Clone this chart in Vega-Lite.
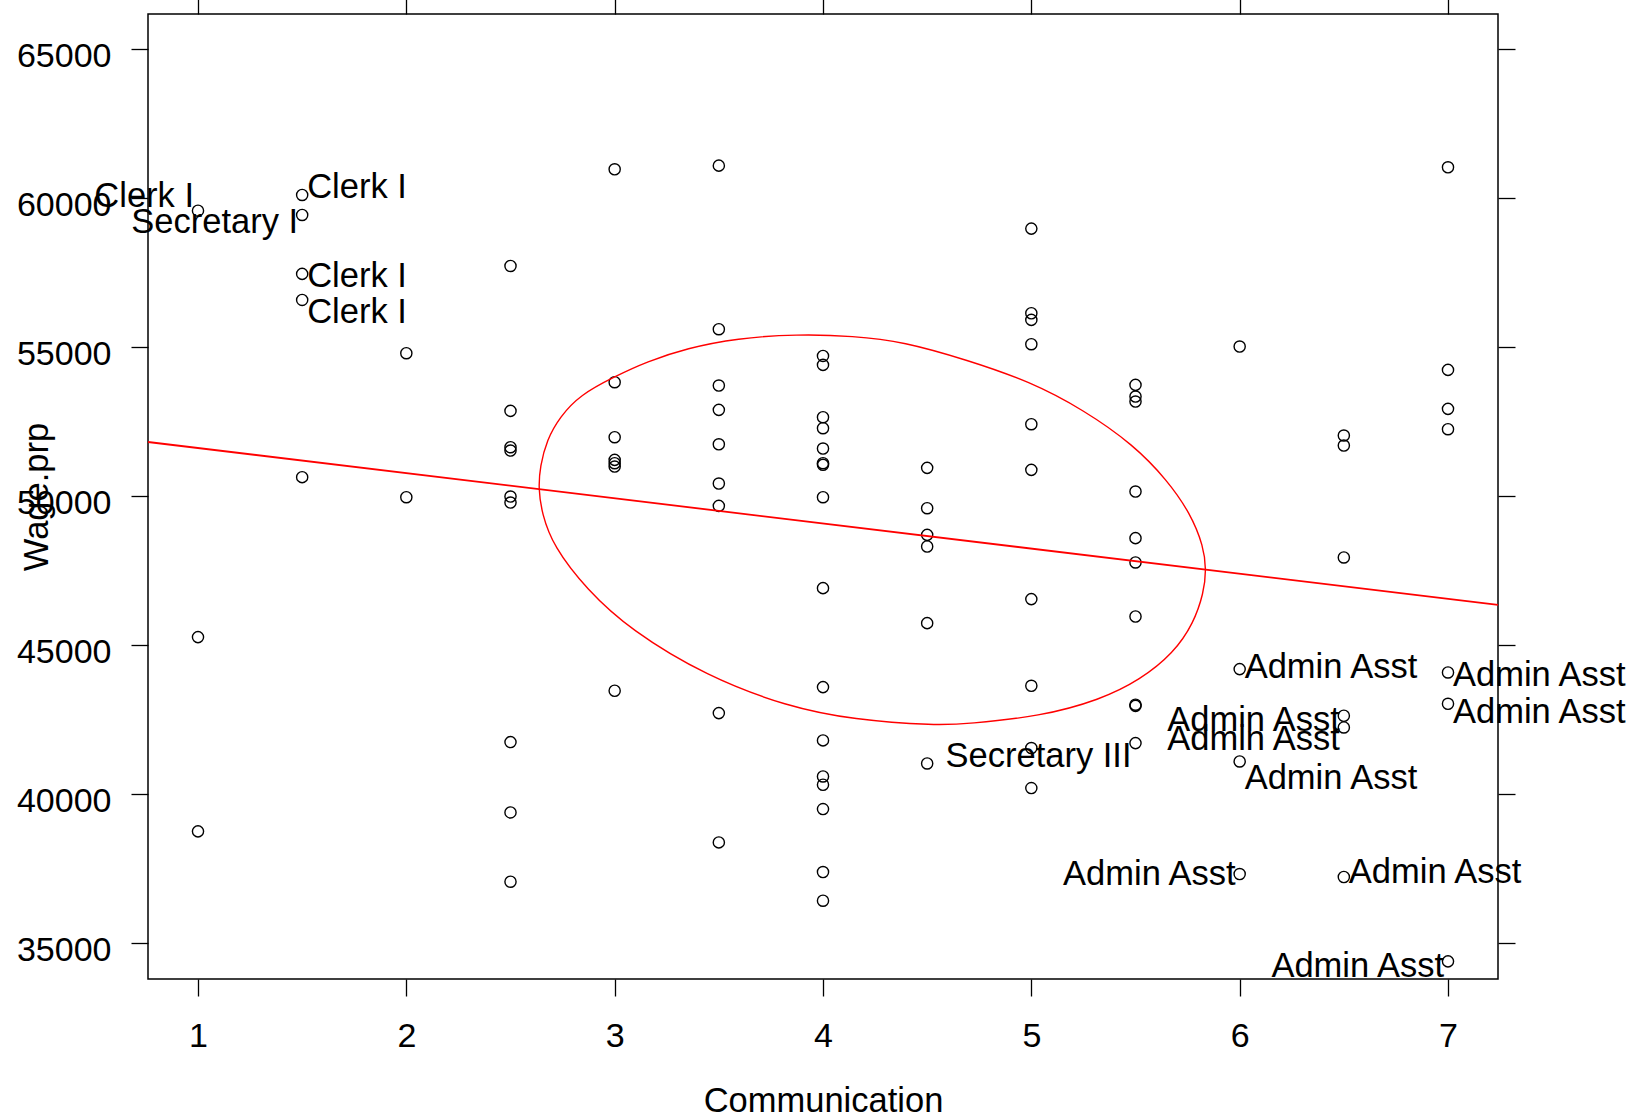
{
  "$schema": "https://vega.github.io/schema/vega-lite/v6.json",
  "width": 1350,
  "height": 965,
  "autosize": {"type": "none"},
  "padding": {"left": 148, "top": 14, "right": 137, "bottom": 141},
  "background": "white",
  "config": {
    "font": "Liberation Sans",
    "view": {"stroke": "black", "strokeWidth": 1.5},
    "axis": {
      "domain": false,
      "grid": false,
      "tickColor": "black",
      "tickSize": 17,
      "tickWidth": 1.3,
      "labelFont": "Liberation Sans",
      "labelFontSize": 34,
      "labelColor": "black",
      "labelFlush": false,
      "labelOverlap": false,
      "titleFont": "Liberation Sans",
      "titleFontSize": 34.5,
      "titleFontWeight": "normal",
      "titleColor": "black"
    }
  },
  "datasets": {
    "points": [
      {"Communication": 1, "Wage": 59584}, {"Communication": 1, "Wage": 45269}, {"Communication": 1, "Wage": 38748},
      {"Communication": 1.5, "Wage": 60112}, {"Communication": 1.5, "Wage": 59441}, {"Communication": 1.5, "Wage": 57461}, {"Communication": 1.5, "Wage": 56588}, {"Communication": 1.5, "Wage": 50638},
      {"Communication": 2, "Wage": 54799}, {"Communication": 2, "Wage": 49966},
      {"Communication": 2.5, "Wage": 57729}, {"Communication": 2.5, "Wage": 52863}, {"Communication": 2.5, "Wage": 51644}, {"Communication": 2.5, "Wage": 51532}, {"Communication": 2.5, "Wage": 49988}, {"Communication": 2.5, "Wage": 49786}, {"Communication": 2.5, "Wage": 41745}, {"Communication": 2.5, "Wage": 39384}, {"Communication": 2.5, "Wage": 37058},
      {"Communication": 3, "Wage": 60973}, {"Communication": 3, "Wage": 53826}, {"Communication": 3, "Wage": 51980}, {"Communication": 3, "Wage": 51219}, {"Communication": 3, "Wage": 51107}, {"Communication": 3, "Wage": 50994}, {"Communication": 3, "Wage": 43468},
      {"Communication": 3.5, "Wage": 61096}, {"Communication": 3.5, "Wage": 55604}, {"Communication": 3.5, "Wage": 53713}, {"Communication": 3.5, "Wage": 52897}, {"Communication": 3.5, "Wage": 51742}, {"Communication": 3.5, "Wage": 50424}, {"Communication": 3.5, "Wage": 49675}, {"Communication": 3.5, "Wage": 42718}, {"Communication": 3.5, "Wage": 38377},
      {"Communication": 4, "Wage": 54708}, {"Communication": 4, "Wage": 54407}, {"Communication": 4, "Wage": 52651}, {"Communication": 4, "Wage": 52282}, {"Communication": 4, "Wage": 51599}, {"Communication": 4, "Wage": 51107}, {"Communication": 4, "Wage": 51052}, {"Communication": 4, "Wage": 49966}, {"Communication": 4, "Wage": 46913}, {"Communication": 4, "Wage": 43591}, {"Communication": 4, "Wage": 41801}, {"Communication": 4, "Wage": 40592}, {"Communication": 4, "Wage": 40313}, {"Communication": 4, "Wage": 39496}, {"Communication": 4, "Wage": 37382}, {"Communication": 4, "Wage": 36420},
      {"Communication": 4.5, "Wage": 50951}, {"Communication": 4.5, "Wage": 49597}, {"Communication": 4.5, "Wage": 48702}, {"Communication": 4.5, "Wage": 48311}, {"Communication": 4.5, "Wage": 45738}, {"Communication": 4.5, "Wage": 41028},
      {"Communication": 5, "Wage": 58982}, {"Communication": 5, "Wage": 56141}, {"Communication": 5, "Wage": 55917}, {"Communication": 5, "Wage": 55101}, {"Communication": 5, "Wage": 52416}, {"Communication": 5, "Wage": 50883}, {"Communication": 5, "Wage": 46544}, {"Communication": 5, "Wage": 43635}, {"Communication": 5, "Wage": 41544}, {"Communication": 5, "Wage": 40201},
      {"Communication": 5.5, "Wage": 53736}, {"Communication": 5.5, "Wage": 53344}, {"Communication": 5.5, "Wage": 53176}, {"Communication": 5.5, "Wage": 50156}, {"Communication": 5.5, "Wage": 48591}, {"Communication": 5.5, "Wage": 47774}, {"Communication": 5.5, "Wage": 45961}, {"Communication": 5.5, "Wage": 43000}, {"Communication": 5.5, "Wage": 42960}, {"Communication": 5.5, "Wage": 41711},
      {"Communication": 6, "Wage": 55022}, {"Communication": 6, "Wage": 44195}, {"Communication": 6, "Wage": 41095}, {"Communication": 6, "Wage": 37316},
      {"Communication": 6.5, "Wage": 52036}, {"Communication": 6.5, "Wage": 51700}, {"Communication": 6.5, "Wage": 47942}, {"Communication": 6.5, "Wage": 42629}, {"Communication": 6.5, "Wage": 42237}, {"Communication": 6.5, "Wage": 37216},
      {"Communication": 7, "Wage": 61040}, {"Communication": 7, "Wage": 54239}, {"Communication": 7, "Wage": 52931}, {"Communication": 7, "Wage": 52248}, {"Communication": 7, "Wage": 44082}, {"Communication": 7, "Wage": 43031}, {"Communication": 7, "Wage": 34384}
    ],
    "fit": [
      {"Communication": 0.76, "Wage": 51819},
      {"Communication": 7.24, "Wage": 46350}
    ],
    "ellipse": [
      {"i": 1, "Communication": 2.634, "Wage": 50269},
      {"i": 2, "Communication": 2.642, "Wage": 50994},
      {"i": 3, "Communication": 2.674, "Wage": 51890},
      {"i": 4, "Communication": 2.738, "Wage": 52672},
      {"i": 5, "Communication": 2.834, "Wage": 53400},
      {"i": 6, "Communication": 2.999, "Wage": 54014},
      {"i": 7, "Communication": 3.155, "Wage": 54518},
      {"i": 8, "Communication": 3.347, "Wage": 54967},
      {"i": 9, "Communication": 3.587, "Wage": 55302},
      {"i": 10, "Communication": 3.875, "Wage": 55437},
      {"i": 11, "Communication": 4.146, "Wage": 55380},
      {"i": 12, "Communication": 4.386, "Wage": 55188},
      {"i": 13, "Communication": 4.691, "Wage": 54574},
      {"i": 14, "Communication": 4.995, "Wage": 53846},
      {"i": 15, "Communication": 5.251, "Wage": 52896},
      {"i": 16, "Communication": 5.491, "Wage": 51722},
      {"i": 17, "Communication": 5.651, "Wage": 50547},
      {"i": 18, "Communication": 5.763, "Wage": 49430},
      {"i": 19, "Communication": 5.827, "Wage": 48309},
      {"i": 20, "Communication": 5.840, "Wage": 47529},
      {"i": 21, "Communication": 5.827, "Wage": 46745},
      {"i": 22, "Communication": 5.779, "Wage": 45738},
      {"i": 23, "Communication": 5.683, "Wage": 44732},
      {"i": 24, "Communication": 5.523, "Wage": 43836},
      {"i": 25, "Communication": 5.331, "Wage": 43165},
      {"i": 26, "Communication": 5.043, "Wage": 42604},
      {"i": 27, "Communication": 4.691, "Wage": 42359},
      {"i": 28, "Communication": 4.547, "Wage": 42302},
      {"i": 29, "Communication": 4.146, "Wage": 42494},
      {"i": 30, "Communication": 3.827, "Wage": 42940},
      {"i": 31, "Communication": 3.443, "Wage": 43946},
      {"i": 32, "Communication": 3.074, "Wage": 45514},
      {"i": 33, "Communication": 2.867, "Wage": 46856},
      {"i": 34, "Communication": 2.706, "Wage": 48309},
      {"i": 35, "Communication": 2.650, "Wage": 49430}
    ],
    "labelsLeft": [
      {"Communication": 1, "Wage": 59719, "Title": "Clerk I"},
      {"Communication": 1.5, "Wage": 58827, "Title": "Secretary I"},
      {"Communication": 5.5, "Wage": 40907, "Title": "Secretary III"},
      {"Communication": 6.5, "Wage": 42102, "Title": "Admin Asst"},
      {"Communication": 6.5, "Wage": 41464, "Title": "Admin Asst"},
      {"Communication": 6, "Wage": 36957, "Title": "Admin Asst"},
      {"Communication": 7, "Wage": 33860, "Title": "Admin Asst"}
    ],
    "labelsRight": [
      {"Communication": 1.5, "Wage": 60001, "Title": "Clerk I"},
      {"Communication": 1.5, "Wage": 57035, "Title": "Clerk I"},
      {"Communication": 1.5, "Wage": 55806, "Title": "Clerk I"},
      {"Communication": 6, "Wage": 43894, "Title": "Admin Asst"},
      {"Communication": 7, "Wage": 43612, "Title": "Admin Asst"},
      {"Communication": 7, "Wage": 42384, "Title": "Admin Asst"},
      {"Communication": 6, "Wage": 40169, "Title": "Admin Asst"},
      {"Communication": 6.5, "Wage": 37014, "Title": "Admin Asst"}
    ]
  },
  "resolve": {"axis": {"x": "independent", "y": "independent"}},
  "layer": [
    {
      "data": {"name": "points"},
      "mark": {"type": "point", "shape": "circle", "filled": false, "stroke": "black", "strokeWidth": 1.4, "size": 125, "opacity": 1},
      "encoding": {
        "x": {
          "field": "Communication", "type": "quantitative",
          "scale": {"domain": [0.76, 7.24], "nice": false, "zero": false},
          "axis": {
            "orient": "bottom", "values": [1, 2, 3, 4, 5, 6, 7], "format": "d",
            "labelBaseline": "alphabetic", "labelPadding": 50, "labelAlign": "center",
            "title": "Communication", "titleX": 675, "titleY": 132,
            "titleBaseline": "alphabetic", "titleAlign": "center", "titleAnchor": "middle"
          }
        },
        "y": {
          "field": "Wage", "type": "quantitative",
          "scale": {"domain": [33792, 66186], "nice": false, "zero": false},
          "axis": {
            "orient": "left", "values": [35000, 40000, 45000, 50000, 55000, 60000, 65000], "format": "d",
            "labelBaseline": "alphabetic", "labelOffset": 17, "labelPadding": 20, "labelAlign": "right",
            "title": "Wage.prp", "titleAngle": 270, "titleX": -101, "titleY": 482.5,
            "titleBaseline": "alphabetic", "titleAlign": "center", "titleAnchor": "middle"
          }
        }
      }
    },
    {
      "data": {"name": "fit"},
      "mark": {"type": "line", "color": "#ff0000", "strokeWidth": 1.8},
      "encoding": {
        "x": {
          "field": "Communication", "type": "quantitative",
          "scale": {"domain": [0.76, 7.24], "nice": false, "zero": false},
          "axis": {"orient": "top", "values": [1, 2, 3, 4, 5, 6, 7], "labels": false, "title": null}
        },
        "y": {
          "field": "Wage", "type": "quantitative",
          "scale": {"domain": [33792, 66186], "nice": false, "zero": false},
          "axis": {"orient": "right", "values": [35000, 40000, 45000, 50000, 55000, 60000, 65000], "labels": false, "title": null}
        }
      }
    },
    {
      "data": {"name": "ellipse"},
      "mark": {"type": "line", "color": "#ff0000", "strokeWidth": 1.4, "interpolate": "basis-closed"},
      "encoding": {
        "x": {"field": "Communication", "type": "quantitative", "axis": null},
        "y": {"field": "Wage", "type": "quantitative", "axis": null},
        "order": {"field": "i", "type": "quantitative"}
      }
    },
    {
      "data": {"name": "labelsLeft"},
      "mark": {"type": "text", "align": "right", "baseline": "alphabetic", "dx": -4, "fontSize": 34.5, "font": "Liberation Sans", "color": "black"},
      "encoding": {
        "x": {"field": "Communication", "type": "quantitative", "axis": null},
        "y": {"field": "Wage", "type": "quantitative", "axis": null},
        "text": {"field": "Title"}
      }
    },
    {
      "data": {"name": "labelsRight"},
      "mark": {"type": "text", "align": "left", "baseline": "alphabetic", "dx": 5, "fontSize": 34.5, "font": "Liberation Sans", "color": "black"},
      "encoding": {
        "x": {"field": "Communication", "type": "quantitative", "axis": null},
        "y": {"field": "Wage", "type": "quantitative", "axis": null},
        "text": {"field": "Title"}
      }
    }
  ]
}
